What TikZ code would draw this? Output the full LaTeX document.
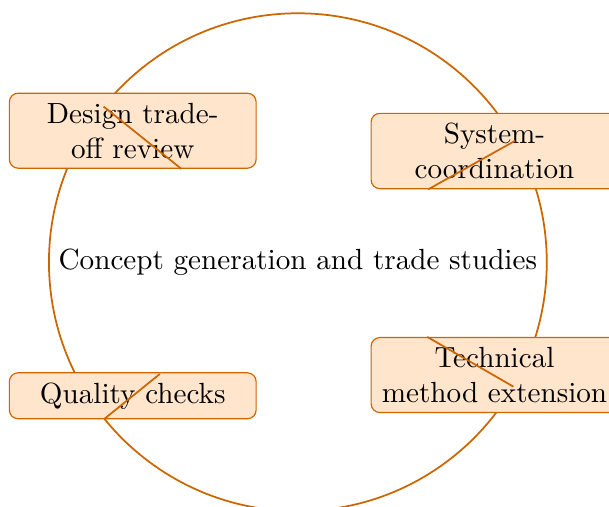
\documentclass[tikz,border=0pt]{standalone}
\usepackage{tikz}
\usetikzlibrary{positioning}
\definecolor{morange}{rgb}{0.8, 0.4, 0}
\tikzset{stagebox/.style = {draw = morange, thin, fill = orange!20, rounded corners = 3pt,
                            text width = 2.74cm, align = center}}

\begin{document}
\begin{tikzpicture}
      \useasboundingbox (-3.59, -2.95) rectangle (3.75, 3.16);
      \draw [semithick, morange] (0, 0) circle (3);
      \node (hub) at (0, 0) {Concept generation and trade studies};
      \node [stagebox] (review) at (-1.99, 1.585) {Design trade-off review};
      \node [stagebox] (coord) at (2.37, 1.34) {System-coordination};
      \node [stagebox] (quality) at (-1.99, -1.61) {Quality checks};
      \node [stagebox] (method) at (2.37, -1.36) {Technical method extension};
      \coordinate (r1) at (141.3:3);
      \coordinate (r2) at (141.3:1.8);
      \coordinate (c1) at (29.2:3);
      \coordinate (c2) at (29.2:1.8);
      \coordinate (q1) at (219:2.14);
      \coordinate (q2) at (219:3);
      \coordinate (m1) at (330:1.8);
      \coordinate (m2) at (330:3);
      \draw [semithick, morange] (r1) -- (r2);
      \draw [semithick, morange] (c1) -- (c2);
      \draw [semithick, morange] (q1) -- (q2);
      \draw [semithick, morange] (m1) -- (m2);
    \end{tikzpicture}
\end{document}
